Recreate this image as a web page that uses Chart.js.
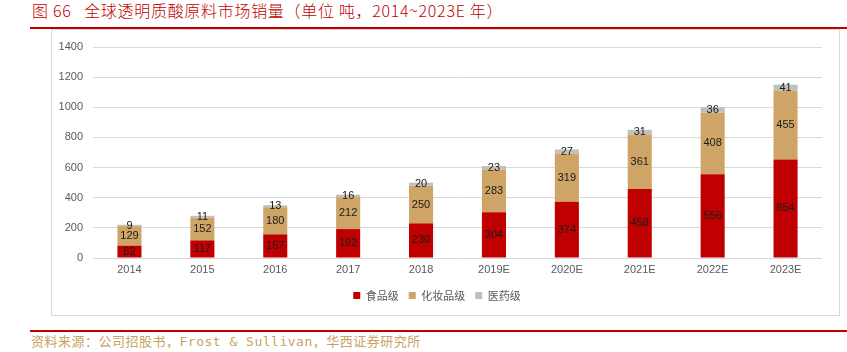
<!DOCTYPE html>
<html>
<head>
<meta charset="utf-8">
<script src="https://cdn.jsdelivr.net/npm/chart.js@4/dist/chart.umd.min.js"></script>
<style>
  body { margin: 0; width: 847px; height: 352px; background: #fff; position: relative; overflow: hidden; }
  #title { position: absolute; left: 32px; top: 0; height: 20px; line-height: 20px; font-size: 16px; font-weight: 300;
           color: #c00000; font-family: "Noto Sans CJK SC", sans-serif; white-space: nowrap; letter-spacing: 0.7px; }
  .redline { position: absolute; left: 30px; width: 817px; height: 2px; background: #c00000; }
  #frame { position: absolute; left: 51px; top: 29px; width: 789px; height: 287px; border: 1px solid #d9d9d9; box-sizing: border-box; }
  #chartBox { position: absolute; left: 52px; top: 30px; width: 786px; height: 284px; }
  #source { position: absolute; left: 31px; top: 334px; font-size: 13px; line-height: 16px; color: #c9a265;
            font-family: "DejaVu Sans Mono", "Noto Sans CJK SC", monospace; letter-spacing: 0.5px; white-space: nowrap; }
</style>
</head>
<body>
<div id="title">图 66&nbsp;&nbsp;&nbsp;全球透明质酸原料市场销量（单位 吨，2014~2023E 年）</div>
<div class="redline" style="top:27px"></div>
<div id="frame"></div>
<div id="chartBox"><canvas id="salesChart"></canvas></div>
<div class="redline" style="top:330px"></div>
<div id="source">资料来源：公司招股书，Frost & Sullivan，华西证券研究所</div>
<script>
// categories and series
const years = ["2014", "2015", "2016", "2017", "2018", "2019E", "2020E", "2021E", "2022E", "2023E"];
const foodGrade = [82, 117, 157, 192, 230, 304, 374, 458, 556, 654];
const cosmeticGrade = [129, 152, 180, 212, 250, 283, 319, 361, 408, 455];
const medicalGrade = [9, 11, 13, 16, 20, 23, 27, 31, 36, 41];
const yTicks = [0, 200, 400, 600, 800, 1000, 1200, 1400];

// draw the value in the middle of every bar segment
const barLabels = {
  id: "barLabels",
  afterDatasetsDraw(chart) {
    const ctx = chart.ctx;
    ctx.save();
    ctx.font = '11px "Liberation Sans", Arial, sans-serif';
    ctx.fillStyle = "#1a1a1a";
    ctx.textAlign = "center";
    ctx.textBaseline = "middle";
    chart.data.datasets.forEach((ds, i) => {
      chart.getDatasetMeta(i).data.forEach((bar, j) => {
        const { x, y, base } = bar.getProps(["x", "y", "base"], true);
        ctx.fillText(ds.data[j], x, (y + base) / 2);
      });
    });
    ctx.restore();
  }
};

const ctx = document.getElementById("salesChart").getContext("2d");
new Chart(ctx, {
  type: "bar",
  data: {
    labels: years,
    datasets: [
      { label: "食品级", data: foodGrade, backgroundColor: "#c00000" },
      { label: "化妆品级", data: cosmeticGrade, backgroundColor: "#cfa567" },
      { label: "医药级", data: medicalGrade, backgroundColor: "#bfbfbf" }
    ]
  },
  options: {
    responsive: true,
    maintainAspectRatio: false,
    animation: false,
    layout: { padding: { top: 17, right: 16, bottom: 3, left: 0 } },
    datasets: { bar: { categoryPercentage: 1, barPercentage: 0.33 } },
    plugins: {
      legend: {
        position: "bottom",
        labels: {
          boxWidth: 7,
          boxHeight: 7,
          padding: 10,
          color: "#595959",
          font: { size: 11, family: '"Noto Sans CJK SC", sans-serif' }
        }
      },
      tooltip: { enabled: false }
    },
    scales: {
      x: {
        stacked: true,
        grid: { display: false, drawTicks: false },
        border: { display: false },
        ticks: { color: "#595959", padding: 5, font: { size: 11, family: '"Liberation Sans", Arial, sans-serif' } },
        afterFit: s => { s.height = 22; }
      },
      y: {
        stacked: true,
        min: 0,
        max: 1400,
        afterBuildTicks: s => { s.ticks = yTicks.map(v => ({ value: v })); },
        grid: { color: "#d9d9d9", drawTicks: false },
        border: { display: false },
        ticks: {
          color: "#595959",
          padding: 10,
          font: { size: 11, family: '"Liberation Sans", Arial, sans-serif' },
          callback: v => String(v)
        },
        afterFit: s => { s.width = 41; }
      }
    }
  },
  plugins: [barLabels]
});
</script>
</body>
</html>
